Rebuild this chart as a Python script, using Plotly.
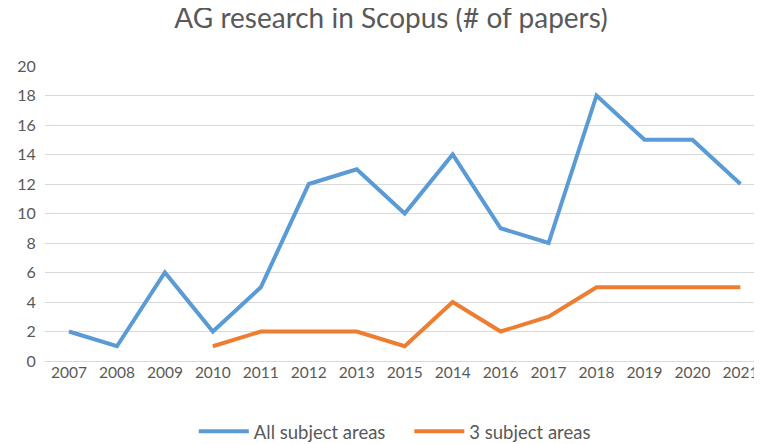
import plotly.graph_objects as go

years = ["2007", "2008", "2009", "2010", "2011", "2012", "2013", "2015",
         "2014", "2016", "2017", "2018", "2019", "2020", "2021"]
all_areas = [2, 1, 6, 2, 5, 12, 13, 10, 14, 9, 8, 18, 15, 15, 12]
three_areas = [None, None, None, 1, 2, 2, 2, 1, 4, 2, 3, 5, 5, 5, 5]

GREY = "#595959"
PAD = "\u00a0" * 4  # extra gap between legend items

fig = go.Figure()
fig.add_trace(go.Scatter(
    x=years, y=all_areas, mode="lines", name="All subject areas" + PAD,
    line=dict(color="#5B9BD5", width=4),
))
fig.add_trace(go.Scatter(
    x=years, y=three_areas, mode="lines", name="3 subject areas",
    line=dict(color="#ED7D31", width=4),
))

# page body adds ~8px offset, so the figure is a bit smaller than the window
fig.update_layout(
    width=754, height=436,
    paper_bgcolor="white", plot_bgcolor="white",
    font=dict(family="Lato, Open Sans, sans-serif", color=GREY, size=16),
    title=dict(text="AG research in Scopus (# of papers)", x=0.508, xanchor="center",
               y=0.999, yanchor="top", font=dict(size=28, color=GREY)),
    margin=dict(l=37, r=0, t=58, b=83, autoexpand=False),
    xaxis=dict(type="category", range=[-0.5, 14.45], showgrid=False,
               showline=False, ticks="", tickfont=dict(size=15.5, color=GREY)),
    yaxis=dict(range=[0, 20], dtick=2, gridcolor="#D9D9D9", gridwidth=1,
               zeroline=True, zerolinecolor="#D9D9D9", zerolinewidth=1,
               showline=False, ticks="", tickfont=dict(size=16, color=GREY),
               ticksuffix="  "),
    showlegend=True,
    legend=dict(orientation="h", xref="container", x=0.513, xanchor="center",
                y=-0.24, yanchor="middle",
                font=dict(size=18.5, color=GREY), itemwidth=50,
                bgcolor="rgba(0,0,0,0)"),
)

fig.write_html("out.html")
